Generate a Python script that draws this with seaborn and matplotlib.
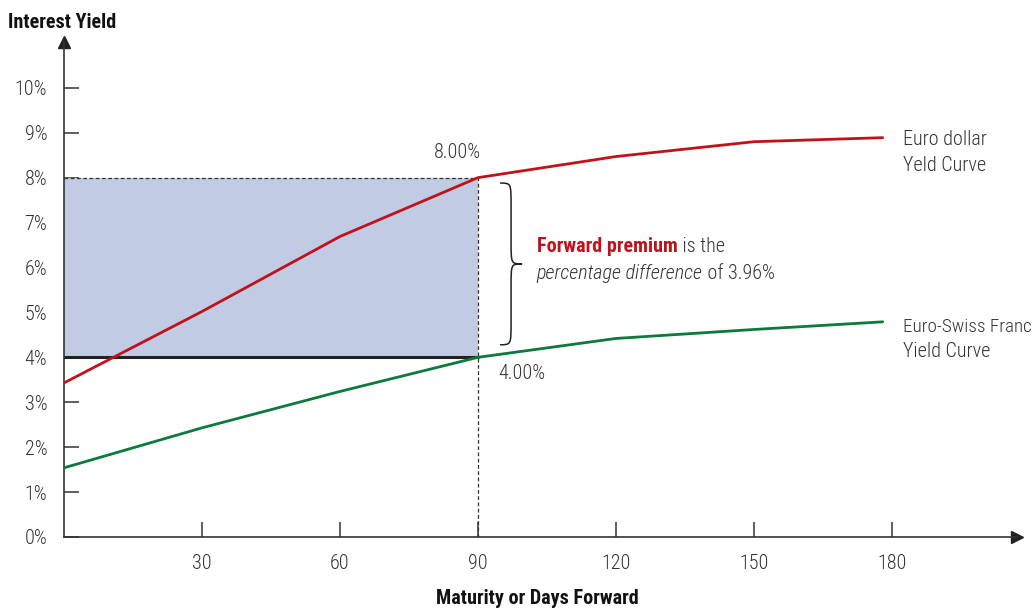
import matplotlib
matplotlib.use("Agg")
import matplotlib.pyplot as plt
from matplotlib.path import Path
from matplotlib.patches import PathPatch, Rectangle
import seaborn as sns
import pandas as pd

# values
days = [0, 30, 60, 90, 120, 150, 178]
euro_dollar = [3.43, 5.02, 6.69, 8.00, 8.47, 8.80, 8.89]
euro_swiss = [1.54, 2.43, 3.24, 4.00, 4.42, 4.62, 4.79]
x_ticks = [30, 60, 90, 120, 150, 180]
y_ticks = list(range(0, 11))

RED = "#c0121b"
GREEN = "#0b7a3c"
GREY = "#333333"
FS = 14.5
LW = "light"

sns.set_theme(style="white")
plt.rcParams['font.family'] = ['Roboto Condensed', 'Archivo Narrow', 'DejaVu Sans']

df = pd.DataFrame({"days": days * 2,
                   "yield": euro_dollar + euro_swiss,
                   "curve": ["Euro dollar"] * len(days) + ["Euro-Swiss Franc"] * len(days)})

fig = plt.figure(figsize=(10.35, 6.09), dpi=100)
ax = fig.add_axes([64 / 1035, (609 - 537) / 609, (1017 - 64) / 1035, (537 - 42) / 609])
ax.set_xlim(0, 207.2)
ax.set_ylim(0, 11.02)

# shaded region between the two rates up to 90 days
ax.add_patch(Rectangle((0, 4), 90, 4, facecolor="#c1cbe3", edgecolor="none", zorder=1))
ax.plot([0, 90], [8, 8], ls=(0, (3, 2)), color=GREY, lw=0.9, zorder=2)
ax.plot([90, 90], [0, 8], ls=(0, (3, 2)), color=GREY, lw=0.9, zorder=2)
ax.plot([0, 90], [4, 4], color="#222222", lw=2.2, zorder=2)

sns.lineplot(data=df, x="days", y="yield", hue="curve", palette=[RED, GREEN],
             lw=2, legend=False, ax=ax, zorder=3)

# axes styling
for s in ["top", "right"]:
    ax.spines[s].set_visible(False)
for s in ["left", "bottom"]:
    ax.spines[s].set_color(GREY)
    ax.spines[s].set_linewidth(1.2)
ax.set_xticks(x_ticks)
ax.set_xticklabels([str(t) for t in x_ticks], fontweight=LW)
ax.set_yticks(y_ticks)
ax.set_yticklabels([f"{t}%" for t in y_ticks], fontweight=LW)
ax.tick_params(axis="x", bottom=True, direction="in", length=11, width=1.1, color=GREY,
               labelsize=FS, labelcolor=GREY, pad=12)
ax.tick_params(axis="y", left=True, direction="in", length=11, width=1.1, color=GREY,
               labelsize=FS, labelcolor=GREY, pad=12)
ax.set_xlabel("")
ax.set_ylabel("")

# axis arrows
ax.plot(1, 0, ">", transform=ax.transAxes, color="#222222", ms=9, clip_on=False)
ax.plot(0, 1, "^", transform=ax.transAxes, color="#222222", ms=9, clip_on=False)

fig.text(8 / 1035, 1 - 22 / 609, "Interest Yield", fontsize=FS, fontweight="bold",
         color="#111111", va="center", ha="left")
fig.text(537 / 1035, 1 - 599 / 609, "Maturity or Days Forward", fontsize=FS,
         fontweight="bold", color="#111111", va="center", ha="center")

ax.text(85.5, 8.55, "8.00%", fontsize=FS, fontweight=LW, color=GREY, ha="center", va="center")
ax.text(99.5, 3.65, "4.00%", fontsize=FS, fontweight=LW, color=GREY, ha="center", va="center")

# curly brace
x0, x1, xm = 94.8, 99.6, 97.2
yt, yb = 7.88, 4.28
ym = (yt + yb) / 2
verts = [(x0, yt), (xm, yt), (xm, yt), (xm, yt - 0.5),
         (xm, ym + 0.5),
         (xm, ym), (xm, ym), (x1, ym),
         (xm, ym), (xm, ym), (xm, ym - 0.5),
         (xm, yb + 0.5),
         (xm, yb), (xm, yb), (x0, yb)]
codes = [Path.MOVETO] + [Path.CURVE4] * 3 + [Path.LINETO] + [Path.CURVE4] * 6 \
    + [Path.LINETO] + [Path.CURVE4] * 3
ax.add_patch(PathPatch(Path(verts, codes), facecolor="none", edgecolor="#222222", lw=1.1))

t1 = ax.text(102.8, 6.35, "Forward premium", fontsize=FS, fontweight="bold", color=RED,
             ha="left", va="baseline")
ax.annotate(" is the", xy=(1, 0), xycoords=t1, fontsize=FS, fontweight=LW, color=GREY,
            va="bottom")
t2 = ax.text(102.8, 5.75, "percentage difference", fontsize=FS, fontstyle="italic",
             fontweight=LW, color=GREY, ha="left", va="baseline")
ax.annotate(" of 3.96%", xy=(1, 0), xycoords=t2, fontsize=FS, fontweight=LW, color=GREY,
            va="bottom")

for label, y, fs in [("Euro dollar", 8.73, FS), ("Yeld Curve", 8.15, FS),
                     ("Euro-Swiss Franc", 4.57, 13.8), ("Yield Curve", 4.01, FS)]:
    ax.text(182.4, y, label, fontsize=fs, fontweight=LW, color=GREY, ha="left",
            va="baseline")

fig.savefig("out.png", dpi=100)
